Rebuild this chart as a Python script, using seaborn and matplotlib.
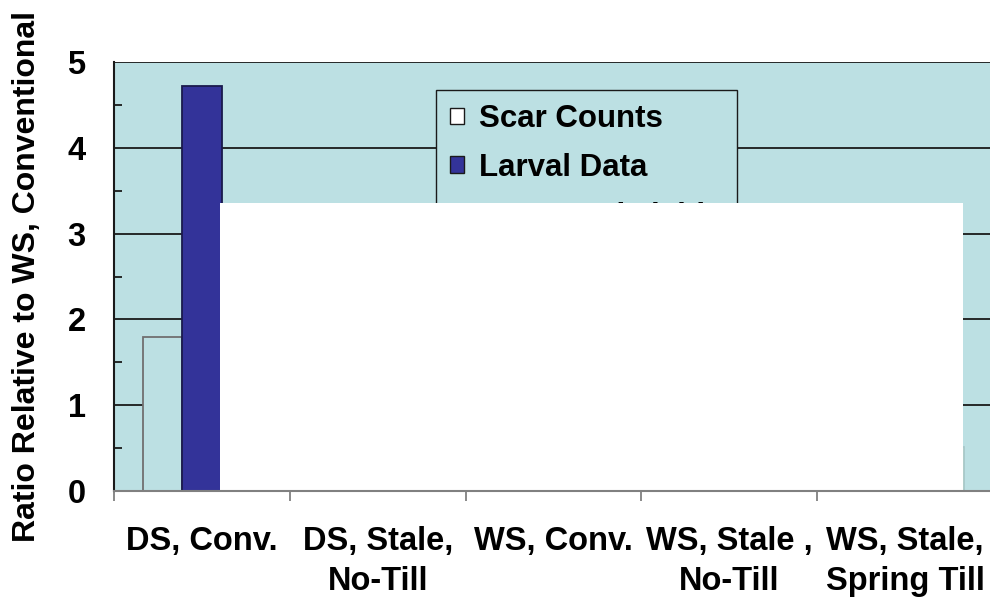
import numpy as np
import pandas as pd
import matplotlib
matplotlib.use("Agg")
import matplotlib.pyplot as plt
import seaborn as sns
from matplotlib.patches import Rectangle, Patch
from matplotlib.ticker import MultipleLocator, FixedLocator

# ---- data ----
categories = ["DS, Conv.", "DS, Stale,\nNo-Till", "WS, Conv.", "WS, Stale ,\nNo-Till", "WS, Stale,\nSpring Till"]
series_names = ["Scar Counts", "Larval Data", "Measured yields"]
scar_counts = [1.8, 1.2, 1.0, 0.9, 0.6]
larval_data = [4.72, 2.1, 1.0, 1.3, 0.8]
third_series = [2.5, 1.5, 1.0, 0.9, 0.51]
y_ticks = [0, 1, 2, 3, 4, 5]

df = pd.DataFrame({
    "Treatment": categories * 3,
    "Measure": [series_names[0]] * 5 + [series_names[1]] * 5 + [series_names[2]] * 5,
    "Ratio": scar_counts + larval_data + third_series,
})

BG = "#BCE0E3"
BLUE = "#333399"
fills = [BG, BLUE, "#FFFFCC"]
edges = ["#707070", "#1a1a4d", "#A8C8CA"]

sns.set_style("white")
plt.rcParams["font.family"] = ["Liberation Sans", "DejaVu Sans"]
plt.rcParams["font.weight"] = "bold"
plt.rcParams["text.color"] = "black"
plt.rcParams["axes.labelcolor"] = "black"
plt.rcParams["xtick.labelcolor"] = "black"
plt.rcParams["ytick.labelcolor"] = "black"

fig = plt.figure(figsize=(9.9, 6.02), dpi=100)
W, H = 990, 602
ax = fig.add_axes([114 / W, 1 - 491 / H, (993 - 114) / W, (491 - 62) / H])
ax.set_facecolor(BG)

sns.barplot(data=df, x="Treatment", y="Ratio", hue="Measure", order=categories,
            hue_order=series_names, palette=fills, width=0.67, ax=ax,
            legend=False, zorder=3, saturation=1)
for cont, ec in zip(ax.containers, edges):
    for bar in cont:
        bar.set_edgecolor(ec)
        bar.set_linewidth(1.3)

ax.set_ylim(0, 5)
ax.set_xlim(-0.5, 4.5)
ax.yaxis.set_major_locator(FixedLocator(y_ticks))
ax.yaxis.set_minor_locator(MultipleLocator(0.5))
ax.grid(axis="y", which="major", color="#1a1a1a", linewidth=1.3, zorder=1)
ax.set_axisbelow(True)

ax.tick_params(axis="y", which="major", direction="out", length=9.5, width=1.3,
               color="#1a1a1a", pad=11, labelsize=23.5, labelcolor="black")
ax.tick_params(axis="y", which="minor", direction="in", length=6, width=1.3,
               color="#1a1a1a", left=True)
for lab in ax.get_yticklabels():
    lab.set_fontweight("bold")

ax.xaxis.set_minor_locator(FixedLocator(np.arange(-0.5, 5.0, 1.0)))
ax.tick_params(axis="x", which="major", length=0, pad=25, labelsize=23.5, labelcolor="black")
ax.tick_params(axis="x", which="minor", direction="out", length=7.5, width=1.3,
               color="#808080", bottom=True)
ax.set_xticks(range(len(categories)))
ax.set_xticklabels(categories, fontweight="bold", linespacing=1.4, color="black")
ax.set_xlabel("")
ax.set_ylabel("Ratio Relative to WS, Conventional", fontsize=23, fontweight="bold",
              labelpad=18, color="black")

for s in ["top", "right"]:
    ax.spines[s].set_visible(False)
ax.spines["left"].set_color("#1a1a1a")
ax.spines["left"].set_linewidth(1.5)
ax.spines["bottom"].set_color("#808080")
ax.spines["bottom"].set_linewidth(1.5)
ax.spines["bottom"].set_zorder(10)

handles = [Patch(facecolor="white", edgecolor="#1a1a1a", linewidth=1),
           Patch(facecolor=BLUE, edgecolor="#1a1a1a", linewidth=1),
           Patch(facecolor="#FFFFCC", edgecolor="#1a1a1a", linewidth=1)]
leg = ax.legend(handles, series_names, loc="upper left",
                bbox_to_anchor=(436 / W, 1 - 90 / H), bbox_transform=fig.transFigure,
                frameon=True, fancybox=False, framealpha=1, facecolor=BG,
                edgecolor="#1a1a1a", prop={"size": 22.5, "weight": "bold"},
                handlelength=0.45, handleheight=0.45, handletextpad=0.48,
                labelspacing=0.6, borderaxespad=0, borderpad=0.45)
leg.get_frame().set_linewidth(1.0)
for t in leg.get_texts():
    t.set_color("black")
leg.set_zorder(5)

# white occluding box
occ = Rectangle((220 / W, 1 - 491 / H), (963 - 220) / W, (491 - 203) / H,
                transform=fig.transFigure, facecolor="white", edgecolor="none", zorder=6)
ax.add_patch(occ)

fig.savefig("out.png", dpi=100, facecolor="white")
